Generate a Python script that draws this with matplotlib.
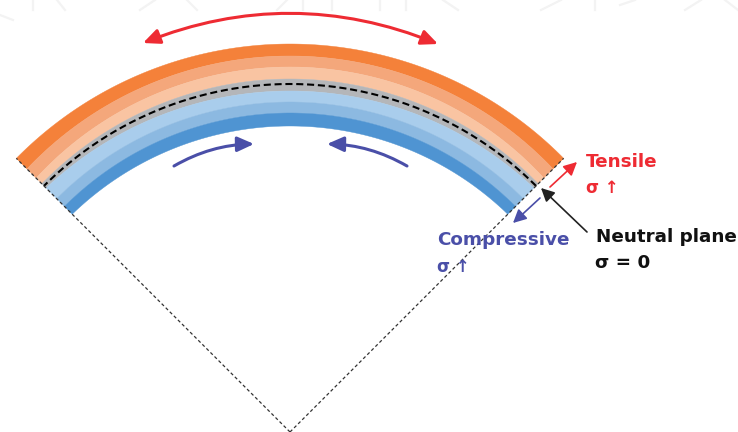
import numpy as np
import matplotlib
matplotlib.use("Agg")
import matplotlib.pyplot as plt
from matplotlib.patches import Polygon, FancyArrowPatch

plt.rcParams['font.family'] = ['DejaVu Sans']

W, H = 738, 432

# band edges in pixels from the apex, outermost first: at the crown and at the two ends
crown_radii = [388, 376, 365, 353, 341, 330, 319, 306]
end_radii = [387, 372, 359, 351, 345, 330, 319, 308]
band_colors = ["#f4813a", "#f4a77b", "#f9c4a2", "#b4b6b9", "#a9cdec", "#8cb9e1", "#4f94d2"]
neutral_radius = 348
apex = (290, 0)
half_angle = 45

# faint page watermark left at the top edge, (x, y) from the top left in pixels
watermark = [
    [(0, 15), (13, 20)],
    [(33, 0), (33, 10)],
    [(57, 0), (65, 10)],
    [(155, 0), (140, 10)],
    [(187, 0), (197, 10)],
    [(287, 0), (277, 10)],
    [(303, 0), (303, 10)],
    [(332, 0), (332, 10)],
    [(380, 0), (380, 10)],
    [(406, 0), (406, 10)],
    [(443, 0), (458, 10)],
    [(561, 0), (541, 10)],
    [(595, 0), (595, 10)],
    [(620, 5), (635, 0)],
    [(685, 10), (701, 0)],
    [(725, 0), (738, 10)],
]

RED = "#ee2b33"
BLUE = "#4a4fa8"
BLACK = "#111111"

fig = plt.figure(figsize=(W / 100, H / 100), dpi=100)
ax = fig.add_axes([0, 0, 1, 1])
ax.set_xlim(0, W)
ax.set_ylim(0, H)
ax.axis("off")

for seg in watermark:
    ax.plot([p[0] for p in seg], [H - p[1] for p in seg], color="#f3f3f3", lw=1.6)

deg = np.linspace(90 - half_angle, 90 + half_angle, 300)
t = np.radians(deg)
# how far along from the crown to the end, bands only change near the ends
u = (np.abs(deg - 90) / half_angle) ** 2


def edge(i):
    r = crown_radii[i] + (end_radii[i] - crown_radii[i]) * u
    return np.column_stack([apex[0] + r * np.cos(t), apex[1] + r * np.sin(t)])


for i, color in enumerate(band_colors):
    ax.add_patch(Polygon(np.vstack([edge(i), edge(i + 1)[::-1]]), closed=True,
                         facecolor=color, edgecolor=color, lw=0.3))

# neutral plane
ax.plot(apex[0] + neutral_radius * np.cos(t), apex[1] + neutral_radius * np.sin(t),
        color="black", lw=1.5, dashes=(3.4, 1.8))

# thin dashed sides of the sector
for a in [90 - half_angle, 90 + half_angle]:
    ax.plot([apex[0], apex[0] + end_radii[0] * np.cos(np.radians(a))],
            [apex[1], apex[1] + end_radii[0] * np.sin(np.radians(a))],
            color="#333333", lw=0.9, dashes=(2.6, 2.0))


def arrow(start, end, color, rad=0.0, lw=2.2, style="-|>", head=(10, 4.5)):
    ax.add_patch(FancyArrowPatch(start, end, connectionstyle=f"arc3,rad={rad}",
                                 arrowstyle=f"{style},head_length={head[0]},head_width={head[1]}",
                                 color=color, lw=lw, shrinkA=0, shrinkB=0,
                                 zorder=5))


# bending arrows
arrow((143, H - 43), (438, H - 44), RED, rad=-0.2, style="<|-|>")
arrow((174, H - 166), (254, H - 144), BLUE, rad=-0.13)
arrow((407, H - 166), (327, H - 144), BLUE, rad=0.13)

# stress direction arrows
arrow((550, H - 187), (577, H - 162), RED, lw=1.2, head=(8, 4))
arrow((540, H - 198), (513, H - 223), BLUE, lw=1.2, head=(8, 4))
arrow((587, H - 232), (541, H - 188), "#222222", lw=1.2, head=(8, 4))

ax.text(586, H - 167, "Tensile", color=RED, fontsize=13.2, fontweight="bold")
ax.text(586, H - 193, "σ ↑", color=RED, fontsize=12, fontweight="bold")
ax.text(437, H - 245, "Compressive", color=BLUE, fontsize=13.2, fontweight="bold")
ax.text(437, H - 272, "σ ↑", color=BLUE, fontsize=12, fontweight="bold")
ax.text(596, H - 242, "Neutral plane", color=BLACK, fontsize=13.2, fontweight="bold")
ax.text(595, H - 268, "σ = 0", color=BLACK, fontsize=13.2, fontweight="bold")

fig.savefig("out.png", dpi=100)
